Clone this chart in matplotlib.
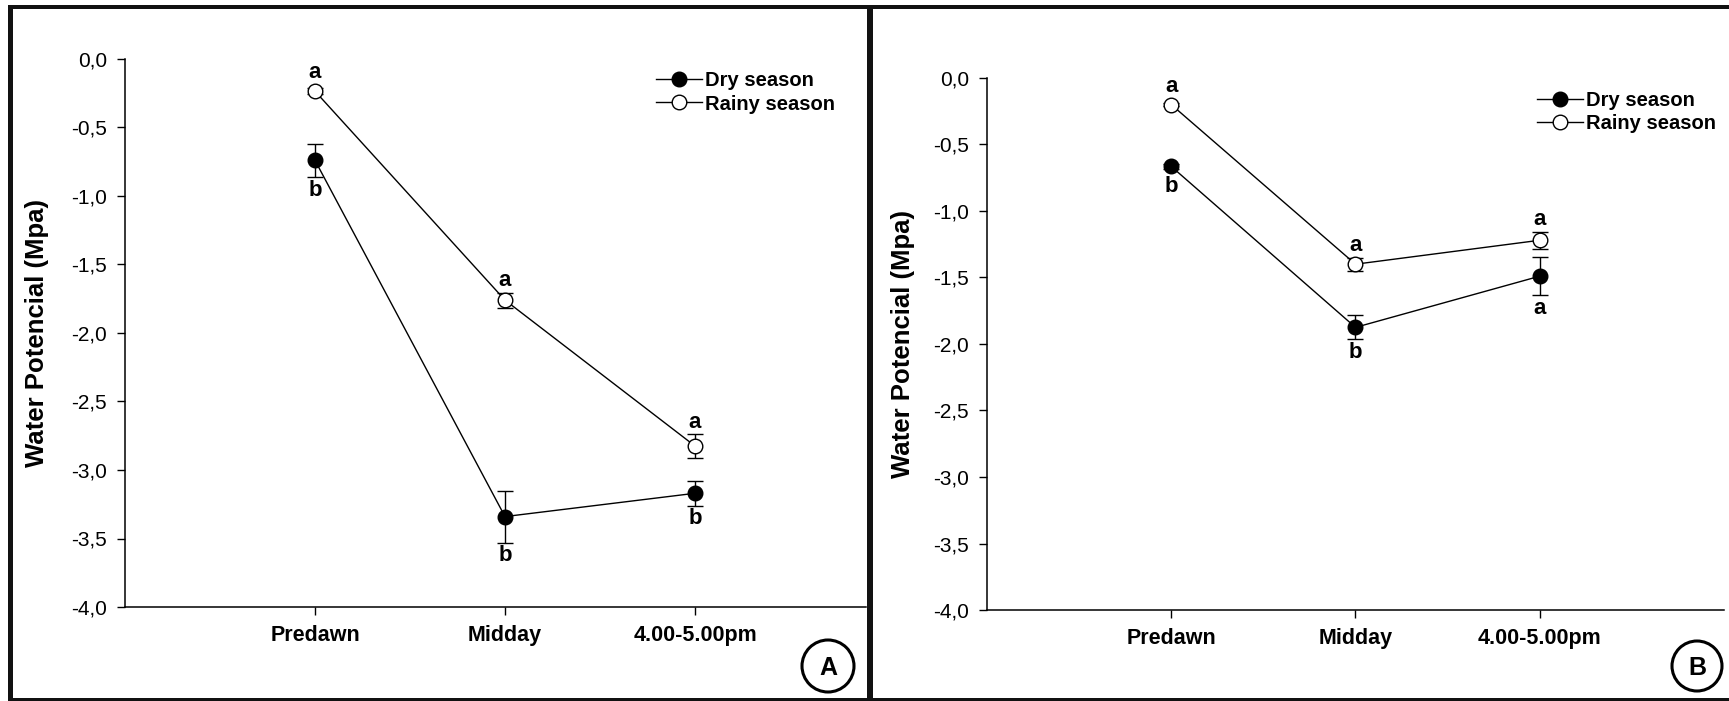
import matplotlib
matplotlib.use("Agg")
import matplotlib.pyplot as plt
from matplotlib.lines import Line2D
from matplotlib.patches import Rectangle, Circle

plt.rcParams["font.family"] = ["Liberation Sans", "DejaVu Sans"]

# --- data ---
periods = ["Predawn", "Midday", "4.00-5.00pm"]
y_ticks = [0.0, -0.5, -1.0, -1.5, -2.0, -2.5, -3.0, -3.5, -4.0]

# Panel A
a_dry = [-0.74, -3.34, -3.17]
a_dry_err = [0.12, 0.19, 0.09]
a_rainy = [-0.235, -1.76, -2.825]
a_rainy_err = [0.02, 0.055, 0.085]
a_dry_letters = ["b", "b", "b"]
a_rainy_letters = ["a", "a", "a"]

# Panel B
b_dry = [-0.665, -1.875, -1.49]
b_dry_err = [0.02, 0.09, 0.145]
b_rainy = [-0.20, -1.40, -1.22]
b_rainy_err = [0.01, 0.05, 0.065]
b_dry_letters = ["b", "b", "a"]
b_rainy_letters = ["a", "a", "a"]

W, H = 1729, 701
fig = plt.figure(figsize=(W / 100, H / 100), dpi=100)


def px_axes(left, right, top, bottom):
    return fig.add_axes([left / W, 1 - bottom / H, (right - left) / W, (bottom - top) / H])


def draw_panel(ax, dry, dry_err, rainy, rainy_err, dry_lab, rainy_lab, xmax, ylab_x, legend_xy):
    x = list(range(1, len(periods) + 1))
    style = dict(fmt="-o", color="black", mec="black", ms=10.5, lw=1.0,
                 elinewidth=1.0, capsize=6, capthick=1.0)
    ax.errorbar(x, dry, yerr=dry_err, mfc="black", **style)
    ax.errorbar(x, rainy, yerr=rainy_err, mfc="white", **style)

    # significance letters
    for i in range(len(x)):
        ax.annotate(rainy_lab[i], xy=(x[i], rainy[i] + max(rainy_err[i], 0.05)),
                    xytext=(0, 1), textcoords="offset points", ha="center", va="bottom",
                    fontsize=16, fontweight="bold")
        ax.annotate(dry_lab[i], xy=(x[i], dry[i] - max(dry_err[i], 0.05)),
                    xytext=(0, -2), textcoords="offset points", ha="center", va="top",
                    fontsize=16, fontweight="bold")

    ax.set_xlim(0, xmax)
    ax.set_ylim(-4.0, 0.0)
    ax.set_xticks(x)
    ax.set_xticklabels(periods, fontsize=15.5, fontweight="bold")
    ax.set_yticks(y_ticks)
    ax.set_yticklabels([f"{v:.1f}".replace(".", ",") for v in y_ticks], fontsize=15)
    ax.tick_params(direction="out", length=5.8, width=1.0, pad=7)
    for side in ["top", "right"]:
        ax.spines[side].set_visible(False)
    for side in ["left", "bottom"]:
        ax.spines[side].set_linewidth(1.1)

    ax.set_ylabel("Water Potencial (Mpa)", fontsize=18.5, fontweight="bold", va="center")
    ax.yaxis.set_label_coords(ylab_x, 0.5)

    handles = [
        Line2D([], [], color="black", lw=1.0, marker="o", ms=10.5, mfc="black", mec="black"),
        Line2D([], [], color="black", lw=1.0, marker="o", ms=10.5, mfc="white", mec="black"),
    ]
    ax.legend(handles, ["Dry season", "Rainy season"], loc="center left",
              bbox_to_anchor=legend_xy, bbox_transform=fig.transFigure,
              frameon=False, prop={"weight": "bold", "size": 14.5},
              handlelength=2.3, handletextpad=0.15, labelspacing=0.2,
              borderpad=0, borderaxespad=0)


ax_a = px_axes(125, 866, 59, 607)
draw_panel(ax_a, a_dry, a_dry_err, a_rainy, a_rainy_err, a_dry_letters, a_rainy_letters,
           3.9, (37.5 - 125) / 741, (656 / W, 1 - 92.5 / H))

ax_b = px_axes(987, 1724, 78, 610)
draw_panel(ax_b, b_dry, b_dry_err, b_rainy, b_rainy_err, b_dry_letters, b_rainy_letters,
           4.0, (903 - 987) / 737, (1537 / W, 1 - 112 / H))

# outer frame and divider (pixel units via inches)
inch = fig.dpi_scale_trans
for (x0, y0, x1, y1) in [(8, 5, W, 9), (8, 5, 13, H), (8, 698, W, H), (867, 5, 873, H)]:
    fig.add_artist(Rectangle((x0 / 100, (H - y1) / 100), (x1 - x0) / 100, (y1 - y0) / 100,
                             transform=inch, facecolor="#111111", edgecolor="none"))

# panel badges
for label, cx, cy, r in [("A", 828, 666, 26), ("B", 1697, 666, 25)]:
    fig.add_artist(Circle((cx / 100, (H - cy) / 100), r / 100, transform=inch,
                          facecolor="white", edgecolor="black", lw=2.2))
    fig.text(cx / 100, (H - cy - 9) / 100, label, transform=inch, ha="center",
             va="baseline", fontsize=18, fontweight="bold")

fig.savefig("out.png", dpi=100)
